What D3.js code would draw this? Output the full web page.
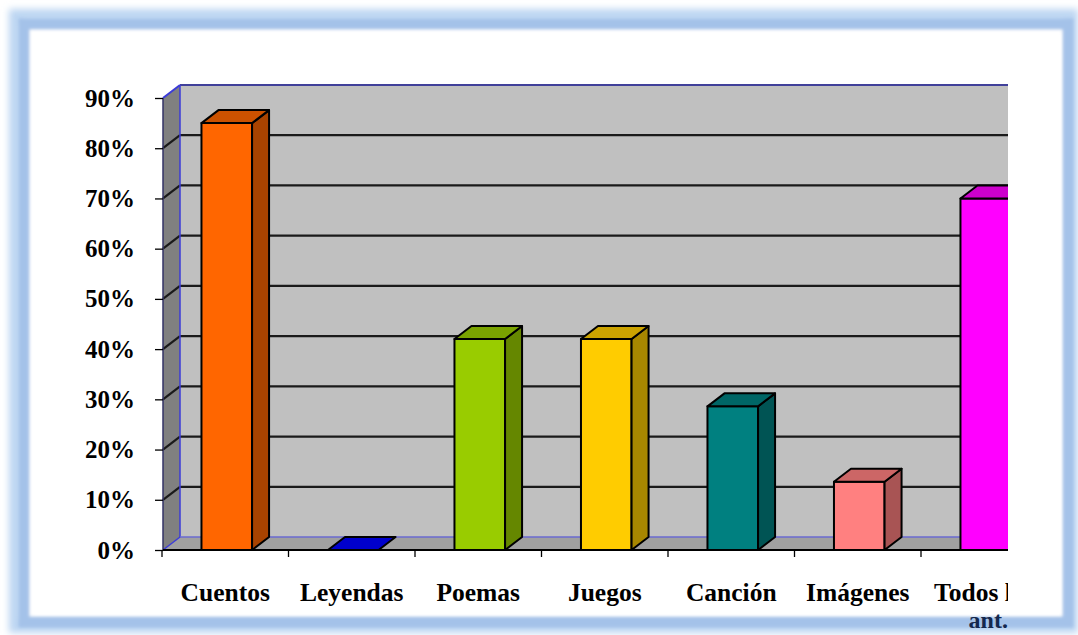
<!DOCTYPE html>
<html>
<head>
<meta charset="utf-8">
<script src="https://cdn.jsdelivr.net/npm/d3@7"></script>
<style>
  html, body { margin: 0; padding: 0; background: #ffffff; }
  svg { display: block; }
</style>
</head>
<body>
<svg id="chart" width="1078" height="635"></svg>
<script>
// Survey results: share of each resource type
const categories = ["Cuentos", "Leyendas", "Poemas", "Juegos", "Canción", "Imágenes", "Todos los ant."];
const values = [85, 0, 42, 42, 28.6, 13.6, 70];
const barColors = ["#ff6600", "#0000ff", "#99cc00", "#ffcc00", "#008080", "#ff8080", "#ff00ff"];
const yTickValues = [0, 10, 20, 30, 40, 50, 60, 70, 80, 90];

const W = 1078, H = 635;
const svg = d3.select("#chart");
const defs = svg.append("defs");

// ---- frame with soft blue glow ----
const glow = defs.append("filter").attr("id", "glow")
  .attr("x", "-5%").attr("y", "-5%").attr("width", "110%").attr("height", "110%");
glow.append("feGaussianBlur").attr("stdDeviation", 3.5);
const soft = defs.append("filter").attr("id", "soft")
  .attr("x", "-5%").attr("y", "-5%").attr("width", "110%").attr("height", "110%");
soft.append("feGaussianBlur").attr("stdDeviation", 1.8);

svg.append("rect").attr("x", 16).attr("y", 16).attr("width", 1055).attr("height", 610)
  .attr("fill", "none").attr("stroke", "#bcd5f2").attr("stroke-width", 14)
  .attr("filter", "url(#glow)");
svg.append("rect").attr("x", 24).attr("y", 24).attr("width", 1044).attr("height", 598)
  .attr("fill", "#ffffff").attr("stroke", "#a4c2e9").attr("stroke-width", 11)
  .attr("filter", "url(#soft)");
svg.append("rect").attr("x", 34).attr("y", 34).attr("width", 1026).attr("height", 580)
  .attr("fill", "#ffffff").attr("filter", "url(#soft)");

// ---- scales ----
const x = d3.scaleBand().domain(categories).range([162, 162 + 126.5 * categories.length]).padding(0);
const y = d3.scaleLinear().domain([0, 90]).range([550, 98]);
const bw = x.bandwidth();
const DX = 17, DY = -13;           // depth offset of the 3D box
const x0 = x.range()[0] + 1;       // front-left corner of the plot box
const clipRight = 1008;

defs.append("clipPath").attr("id", "plotClip")
  .append("rect").attr("x", 0).attr("y", 0).attr("width", clipRight).attr("height", H);

const plot = svg.append("g").attr("clip-path", "url(#plotClip)");

const yTop = y(90), yBase = y(0);

// back wall
plot.append("rect")
  .attr("x", x0 + DX).attr("y", yTop + DY)
  .attr("width", clipRight - (x0 + DX) + 5).attr("height", yBase - yTop)
  .attr("fill", "#c0c0c0");

// side wall
plot.append("polygon")
  .attr("points", [[x0, yTop], [x0 + DX, yTop + DY], [x0 + DX, yBase + DY], [x0, yBase]].join(" "))
  .attr("fill", "#808080");

// floor
plot.append("polygon")
  .attr("points", [[x0, yBase], [x0 + DX, yBase + DY], [clipRight + 5, yBase + DY], [clipRight + 5, yBase]].join(" "))
  .attr("fill", "#a0a0a0");

// gridlines: on the back wall and across the side wall
const grid = plot.append("g");
yTickValues.filter(v => v > 0 && v < 90).forEach(v => {
  const yy = y(v);
  grid.append("line")
    .attr("x1", x0 + DX).attr("x2", clipRight + 5)
    .attr("y1", yy + DY).attr("y2", yy + DY)
    .attr("stroke", "#1a1a1a").attr("stroke-width", 2.2);
  grid.append("line")
    .attr("x1", x0).attr("y1", yy).attr("x2", x0 + DX).attr("y2", yy + DY)
    .attr("stroke", "#1a1a1a").attr("stroke-width", 2.2);
});

// wall edges
const edge = "#3b3bd8";
plot.append("line").attr("x1", x0 + DX).attr("x2", clipRight + 5)
  .attr("y1", yTop + DY).attr("y2", yTop + DY).attr("stroke", "#40409a").attr("stroke-width", 2);
plot.append("line").attr("x1", x0).attr("y1", yTop).attr("x2", x0 + DX).attr("y2", yTop + DY)
  .attr("stroke", edge).attr("stroke-width", 2);
plot.append("line").attr("x1", x0 + DX).attr("x2", x0 + DX)
  .attr("y1", yTop + DY).attr("y2", yBase + DY).attr("stroke", edge).attr("stroke-width", 1.5);
plot.append("line").attr("x1", x0 + DX).attr("x2", clipRight + 5)
  .attr("y1", yBase + DY).attr("y2", yBase + DY).attr("stroke", "#6a6ad0").attr("stroke-width", 1.5);
plot.append("line").attr("x1", x0).attr("y1", yBase).attr("x2", x0 + DX).attr("y2", yBase + DY)
  .attr("stroke", edge).attr("stroke-width", 1.5);
plot.append("line").attr("x1", x0).attr("x2", x0)
  .attr("y1", yTop).attr("y2", yBase).attr("stroke", "#333366").attr("stroke-width", 1.5);

// ---- bars ----
function shade(c, k) {
  const r = d3.rgb(c);
  return d3.rgb(r.r * k, r.g * k, r.b * k).formatHex();
}
const bars = plot.append("g").attr("stroke", "#000").attr("stroke-width", 2).attr("stroke-linejoin", "round");
categories.forEach((c, i) => {
  const v = values[i];
  const bx0 = x(c) + bw * 0.312;
  const bx1 = bx0 + bw * 0.40;
  const yt = y(v);
  const g = bars.append("g");
  if (v > 0) {
    g.append("rect").attr("x", bx0).attr("y", yt).attr("width", bx1 - bx0).attr("height", yBase - yt)
      .attr("fill", barColors[i]);
    g.append("polygon")
      .attr("points", [[bx1, yt], [bx1 + DX, yt + DY], [bx1 + DX, yBase + DY], [bx1, yBase]].join(" "))
      .attr("fill", shade(barColors[i], 0.66));
  }
  g.append("polygon")
    .attr("points", [[bx0, yt], [bx0 + DX, yt + DY], [bx1 + DX, yt + DY], [bx1, yt]].join(" "))
    .attr("fill", shade(barColors[i], 0.8));
});

// ---- axes ----
const labelFont = "'Liberation Serif', 'Times New Roman', serif";
const yAxis = d3.axisLeft(y).tickValues(yTickValues).tickFormat(d => d + "%")
  .tickSize(8).tickPadding(20);
const yAxisG = svg.append("g").attr("transform", `translate(${x0},0)`).call(yAxis);
yAxisG.select(".domain").remove();
yAxisG.selectAll(".tick line").attr("stroke", "#000").attr("stroke-width", 1.3);
yAxisG.selectAll(".tick text")
  .attr("font-family", labelFont)
  .attr("font-weight", "bold").attr("font-size", 25).attr("fill", "#000");

// x-axis baseline and category boundary ticks
const xAxisG = svg.append("g").attr("clip-path", "url(#plotClip)");
xAxisG.append("line").attr("x1", x0).attr("x2", clipRight + 5)
  .attr("y1", yBase).attr("y2", yBase).attr("stroke", "#000").attr("stroke-width", 1.8);
categories.forEach(c => {
  const tx = x(c);
  xAxisG.append("line").attr("x1", tx).attr("x2", tx).attr("y1", yBase).attr("y2", yBase + 7)
    .attr("stroke", "#000").attr("stroke-width", 1.3);
});

// category labels (the last one wraps onto a second line)
categories.forEach((c, i) => {
  const cx = x(c) + bw / 2;
  const parts = c === "Todos los ant." ? ["Todos los", "ant."] : [c];
  parts.forEach((p, j) => {
    svg.append("text")
      .attr("x", cx + (j === 1 ? 4 : 0)).attr("y", j === 0 ? 601 : 628)
      .attr("text-anchor", "middle")
      .attr("font-family", labelFont).attr("font-weight", "bold")
      .attr("font-size", j === 0 ? 25.5 : 24)
      .attr("fill", j === 0 ? "#000" : "#14284e")
      .attr("clip-path", j === 0 ? "url(#plotClip)" : null)
      .text(p);
  });
});
</script>
</body>
</html>
